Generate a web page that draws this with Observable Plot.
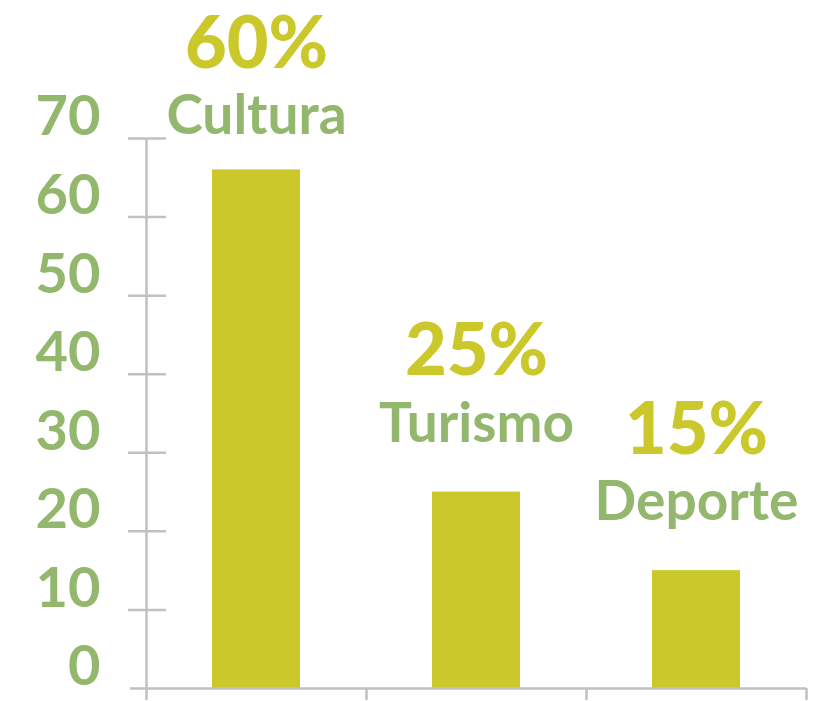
<!DOCTYPE html>
<html>
<head>
<meta charset="utf-8">
<script src="https://cdn.jsdelivr.net/npm/d3@7"></script>
<script src="https://cdn.jsdelivr.net/npm/@observablehq/plot@0.6"></script>
<style>
  html, body { margin: 0; padding: 0; background: #fff; }
  svg { display: block; }
  g[aria-label="category-label"] text { letter-spacing: 1.5px; }
</style>
</head>
<body>
<div id="chart"></div>
<script>
const categories = ["Cultura", "Turismo", "Deporte"];
const values = [66, 25, 15];
const percentLabels = ["60%", "25%", "15%"];
const yTicks = [0, 10, 20, 30, 40, 50, 60, 70];

const data = categories.map((c, i) => ({i, name: c, value: values[i], pct: percentLabels[i]}));
const xBounds = d3.range(categories.length + 1);

const yellow = "#cbc82c";
const green = "#93b76d";
const gray = "#c1c1c5";
const labelCap = 64.1; // keep the tallest bar's labels inside the picture

const chart = Plot.plot({
  width: 813,
  height: 701,
  marginTop: 138,
  marginBottom: 13,
  marginLeft: 146,
  marginRight: 7,
  style: {fontFamily: "Lato, sans-serif", background: "#fff"},
  x: {domain: [0, categories.length], axis: null},
  y: {domain: [0, 70], axis: null},
  marks: [
    Plot.rectY(data, {x1: d => d.i + 0.3, x2: d => d.i + 0.7, y1: 0, y2: "value", fill: yellow}),
    Plot.ruleY([0], {stroke: gray, strokeWidth: 2.5, insetLeft: -16}),
    Plot.ruleX([0], {y1: 70, y2: 0, stroke: gray, strokeWidth: 2.5, insetBottom: -12}),
    Plot.ruleX(xBounds.slice(1), {y1: 0, y2: 0, stroke: gray, strokeWidth: 2.5, insetBottom: -12}),
    Plot.ruleY(yTicks.slice(1), {x1: 0, x2: 0, stroke: gray, strokeWidth: 2.5, insetLeft: -18, insetRight: -20}),
    Plot.axisY(yTicks, {tickSize: 0, tickPadding: 46, fontSize: 56, fontWeight: 700, color: green, dy: -21, label: null}),
    Plot.text(data, {x: d => d.i + 0.5, y: d => Math.min(d.value, labelCap), text: "name", dy: -68, fontSize: 55, fontWeight: 700, fill: green, ariaLabel: "category-label"}),
    Plot.text(data, {x: d => d.i + 0.5, y: d => Math.min(d.value, labelCap), text: "pct", dy: -140, fontSize: 72, fontWeight: 900, fill: yellow})
  ]
});
document.getElementById("chart").appendChild(chart);
</script>
</body>
</html>
